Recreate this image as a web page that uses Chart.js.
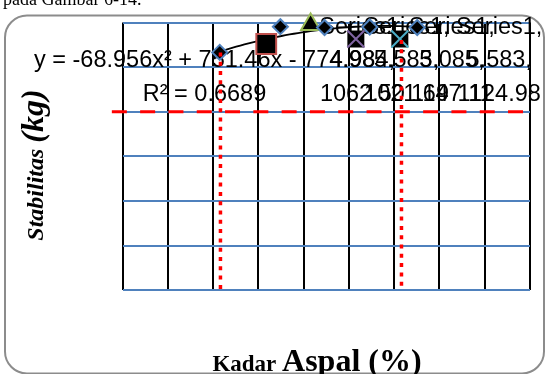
<!DOCTYPE html>
<html>
<head>
<meta charset="utf-8">
<title>Stabilitas vs Kadar Aspal</title>
<script src="https://cdn.jsdelivr.net/npm/chart.js@4.4.1/dist/chart.umd.min.js"></script>
<style>
  html, body { margin: 0; padding: 0; background: #ffffff; }
  canvas { display: block; }
</style>
</head>
<body>
<canvas id="chart" width="546" height="374"></canvas>
<script>
// Axis ranges [min, max, step]; tick labels are hidden, the grid follows these steps
const xAxisRange = [4.0, 6.25, 0.25];
const yAxisRange = [680, 1280, 100];

// Stabilitas Marshall (kg) against kadar aspal (%)
const series1X = [4.536, 4.871, 5.115, 5.365, 5.627];
const series1Y = [1213, 1270.6, 1268.8, 1269.9, 1268.8];
const series2X = [4.793];
const series2Y = [1231.8];
const series3X = [5.038];
const series3Y = [1275.5];
const series4X = [5.288];
const series4Y = [1243];
const series5X = [5.531];
const series5Y = [1243];

// Second-order polynomial trend of Series1: y = a x^2 + b x + c
const trendCoef = [-68.956, 751.46, -774.98];
const trendR2 = 0.6689;

// Limits: kadar aspal range (dotted) and minimum stabilitas (dashed)
const kadarBatasX = [4.54, 5.54];
const kadarBatasTop = [1213, 1241];
const stabilitasBatas = 1080;
const stabilitasBatasX = [3.94, 6.25];

// Data label texts: series name, x value, y value
const labelSeries = ["Series1,", "Series1,", "Series1,", "Series1,"];
const labelXText = ["4.984,", "5.583,", "5.085,", "5.583,"];
const labelYText = ["1062.50", "1021.69", "1147.11", "1124.98"];

const pts = (xs, ys) => xs.map((x, i) => ({ x: x, y: ys[i] }));
const poly = x => trendCoef[0] * x * x + trendCoef[1] * x + trendCoef[2];

// Trend curve evaluated over the x range of Series1
const trendPts = [];
{
  const x0 = series1X[0], x1 = series1X[series1X.length - 1];
  for (let i = 0; i <= 48; i++) {
    const x = x0 + (x1 - x0) * i / 48;
    trendPts.push({ x: x, y: poly(x) });
  }
}

const fmt = v => String(Math.abs(v));
const equationText = 'y = ' + (trendCoef[0] < 0 ? '-' : '') + fmt(trendCoef[0]) + 'x\u00B2 ' +
  (trendCoef[1] < 0 ? '- ' : '+ ') + fmt(trendCoef[1]) + 'x ' +
  (trendCoef[2] < 0 ? '- ' : '+ ') + fmt(trendCoef[2]);
const r2Text = 'R\u00B2 = ' + trendR2.toFixed(4);

const SANS = '"Liberation Sans", Arial, sans-serif';
const SERIF = '"Liberation Serif", "Times New Roman", serif';

function mixedText(ctx, parts, x, y, align) {
  // parts: [[text, font], ...] drawn on one baseline
  let total = 0;
  const widths = parts.map(p => { ctx.font = p[1]; const w = ctx.measureText(p[0]).width; total += w; return w; });
  let cx = align === 'center' ? x - total / 2 : x;
  ctx.textAlign = 'left';
  ctx.textBaseline = 'alphabetic';
  parts.forEach((p, i) => { ctx.font = p[1]; ctx.fillText(p[0], cx, y); cx += widths[i]; });
}

const decor = {
  id: 'decor',
  beforeDraw(chart) {
    const ctx = chart.ctx;
    ctx.save();
    ctx.fillStyle = '#ffffff';
    ctx.fillRect(0, 0, chart.width, chart.height);

    // caption line above the chart frame
    ctx.fillStyle = '#000000';
    ctx.font = '18px ' + SERIF;
    ctx.textAlign = 'left';
    ctx.textBaseline = 'alphabetic';
    ctx.fillText('pada Gambar 6-14.', 3, 5);

    // rounded chart frame
    const x = 5, y = 15.5, w = 539, h = 358, r = 22;
    ctx.beginPath();
    ctx.moveTo(x + r, y);
    ctx.lineTo(x + w - r, y);
    ctx.arcTo(x + w, y, x + w, y + r, r);
    ctx.lineTo(x + w, y + h - r);
    ctx.arcTo(x + w, y + h, x + w - r, y + h, r);
    ctx.lineTo(x + r, y + h);
    ctx.arcTo(x, y + h, x, y + h - r, r);
    ctx.lineTo(x, y + r);
    ctx.arcTo(x, y, x + r, y, r);
    ctx.closePath();
    ctx.strokeStyle = '#8c8c8c';
    ctx.lineWidth = 2;
    ctx.stroke();

    // axis titles
    ctx.fillStyle = '#000000';
    mixedText(ctx, [['Kadar ', 'bold 23px ' + SERIF], ['Aspal (%)', 'bold 32px ' + SERIF]], 317, 371, 'center');
    ctx.translate(42.5, 165);
    ctx.rotate(-Math.PI / 2);
    mixedText(ctx, [['Stabilitas ', 'italic bold 24px ' + SERIF], ['(kg)', 'italic bold 32px ' + SERIF]], 0, 0, 'center');
    ctx.restore();
  },
  beforeDatasetsDraw(chart) {
    const ctx = chart.ctx;
    const area = chart.chartArea;
    const xs = chart.scales.x;
    ctx.save();
    ctx.fillStyle = '#000000';
    ctx.font = '23.5px ' + SANS;
    ctx.textAlign = 'center';
    ctx.textBaseline = 'alphabetic';
    // trendline equation and R squared
    ctx.fillText(equationText, 204.5, area.top + 44);
    ctx.fillText(r2Text, 204.5, area.top + 78);
    // stacked data labels of Series1
    for (let i = 0; i < labelSeries.length; i++) {
      const cx = xs.getPixelForValue(series1X[i + 1]) + 82;
      ctx.fillText(labelSeries[i], cx, area.top + 11);
      ctx.fillText(labelXText[i], cx, area.top + 44);
      ctx.fillText(labelYText[i], cx, area.top + 78);
    }
    ctx.restore();
  }
};

const datasets = [
  {
    label: 'batas kadar 1',
    data: [{ x: kadarBatasX[0], y: kadarBatasTop[0] }, { x: kadarBatasX[0], y: yAxisRange[0] }],
    showLine: true, borderColor: '#ff0000', borderWidth: 3.5, borderDash: [4, 5.3],
    pointRadius: 0, order: 0, clip: false
  },
  {
    label: 'batas kadar 2',
    data: [{ x: kadarBatasX[1], y: kadarBatasTop[1] }, { x: kadarBatasX[1], y: yAxisRange[0] }],
    showLine: true, borderColor: '#ff0000', borderWidth: 3.5, borderDash: [4, 5.3],
    pointRadius: 0, order: 0, clip: false
  },
  {
    label: 'batas stabilitas',
    data: [{ x: stabilitasBatasX[0], y: stabilitasBatas }, { x: stabilitasBatasX[1], y: stabilitasBatas }],
    showLine: true, borderColor: '#ff0000', borderWidth: 3, borderDash: [15, 13.3],
    pointRadius: 0, order: 0, clip: false
  },
  {
    label: 'Series4 x', data: pts(series4X, series4Y),
    pointStyle: 'crossRot', pointRadius: 12, pointBorderColor: '#8064A2', pointBorderWidth: 2,
    showLine: false, order: 1, clip: false
  },
  {
    label: 'Series5 x', data: pts(series5X, series5Y),
    pointStyle: 'crossRot', pointRadius: 12, pointBorderColor: '#4BACC6', pointBorderWidth: 2,
    showLine: false, order: 1, clip: false
  },
  {
    label: 'Series4', data: pts(series4X, series4Y),
    pointStyle: 'rect', pointRadius: 12, pointBackgroundColor: '#000000', pointBorderWidth: 0,
    showLine: false, order: 2, clip: false
  },
  {
    label: 'Series5', data: pts(series5X, series5Y),
    pointStyle: 'rect', pointRadius: 12, pointBackgroundColor: '#000000', pointBorderWidth: 0,
    showLine: false, order: 2, clip: false
  },
  {
    label: 'Series1', data: pts(series1X, series1Y),
    pointStyle: 'rectRot', pointRadius: 7.5, pointBackgroundColor: '#000000',
    pointBorderColor: '#4F81BD', pointBorderWidth: 2, showLine: false, order: 2, clip: false
  },
  {
    label: 'Series2', data: pts(series2X, series2Y),
    pointStyle: 'rect', pointRadius: 14, pointBackgroundColor: '#000000',
    pointBorderColor: '#C0504D', pointBorderWidth: 2, showLine: false, order: 2, clip: false
  },
  {
    label: 'Series3', data: pts(series3X, series3Y),
    pointStyle: 'triangle', pointRadius: 11, pointBackgroundColor: '#000000',
    pointBorderColor: '#9BBB59', pointBorderWidth: 2, showLine: false, order: 2, clip: false
  },
  {
    label: 'Poly. (Series1)', data: trendPts,
    showLine: true, borderColor: '#000000', borderWidth: 1.8, pointRadius: 0,
    tension: 0, order: 5, clip: false
  }
];

new Chart(document.getElementById('chart'), {
  type: 'scatter',
  data: { datasets: datasets },
  options: {
    responsive: false,
    animation: false,
    devicePixelRatio: 1,
    layout: { padding: { left: 122.7, top: 22.5, right: 15, bottom: 83.7 } },
    plugins: { legend: { display: false }, tooltip: { enabled: false } },
    scales: {
      x: {
        type: 'linear', min: xAxisRange[0], max: xAxisRange[1],
        ticks: { display: false, stepSize: xAxisRange[2] },
        grid: { color: '#000000', lineWidth: 2, drawTicks: false },
        border: { display: false }
      },
      y: {
        type: 'linear', min: yAxisRange[0], max: yAxisRange[1],
        ticks: { display: false, stepSize: yAxisRange[2] },
        grid: { color: '#4F81BD', lineWidth: 2, drawTicks: false },
        border: { display: false }
      }
    }
  },
  plugins: [decor]
});
</script>
</body>
</html>
